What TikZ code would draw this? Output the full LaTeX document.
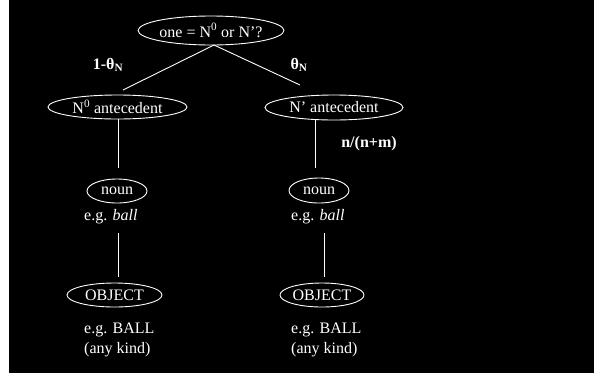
\documentclass[tikz,border=0pt]{standalone}
\usepackage{fontspec}
\setmainfont{Liberation Serif}
\usetikzlibrary{shapes.geometric}
\begin{document}
\begin{tikzpicture}[x=1pt,y=-1pt,
  oval/.style={ellipse,draw=white,fill=black,line width=0.9pt,inner sep=0pt,text=white,font=\fontsize{16}{18}\selectfont},
  txt/.style={text=white,inner sep=0pt,anchor=west,font=\fontsize{16}{18}\selectfont},
  lbl/.style={text=white,inner sep=0pt,font=\fontsize{16}{18}\selectfont\bfseries},
  conn/.style={draw=white,line width=0.9pt}]
\useasboundingbox (0,0) rectangle (594,373);
\fill[white] (0,0) rectangle (8.5,373);
\fill[black] (8.5,0) rectangle (594,373);
% nodes
\node[oval,minimum width=138,minimum height=29] (top) at (211,30.5) {one = N\textsuperscript{0} or N’?};
\node[oval,minimum width=139,minimum height=24] (lant) at (117.5,107) {N\textsuperscript{0} antecedent};
\node[oval,minimum width=138,minimum height=25] (rant) at (334,107.5) {N’ antecedent};
\node[oval,minimum width=60,minimum height=24] (lnoun) at (117,191) {noun};
\node[oval,minimum width=60,minimum height=25] (rnoun) at (319,190.5) {noun};
\node[oval,minimum width=95,minimum height=24] (lobj) at (114.5,295) {OBJECT};
\node[oval,minimum width=84,minimum height=24] (robj) at (322,295) {OBJECT};
% texts
\node[txt] (leg) at (84,217) {e.g. \textit{ball}};
\node[txt] (reg) at (291,217) {e.g. \textit{ball}};
\node[txt] (lball) at (84,330) {e.g. BALL};
\node[txt] (lkind) at (84,350) {(any kind)};
\node[txt] (rball) at (291,330) {e.g. BALL};
\node[txt] (rkind) at (291,350) {(any kind)};
% labels
\node[lbl] (p1) at (108,65) {1-θ\textsubscript{N}};
\node[lbl] (p2) at (299,65) {θ\textsubscript{N}};
\node[lbl] (p3) at (369,144) {n/(n+m)};
% connector ends
\coordinate (apex) at (214,45);
\coordinate (le) at (123,90);
\coordinate (re) at (300,85);
\coordinate (l1b) at (118,168);
\coordinate (r1b) at (315,168);
\coordinate (l2t) at (118,233);
\coordinate (l2b) at (118,277);
\coordinate (r2t) at (324,233);
\coordinate (r2b) at (324,277);
\draw[conn] (apex) -- (le);
\draw[conn] (apex) -- (re);
\draw[conn] (lant.south -| l1b) -- (l1b);
\draw[conn] (rant.south -| r1b) -- (r1b);
\draw[conn] (l2t) -- (l2b);
\draw[conn] (r2t) -- (r2b);
\end{tikzpicture}
\end{document}
